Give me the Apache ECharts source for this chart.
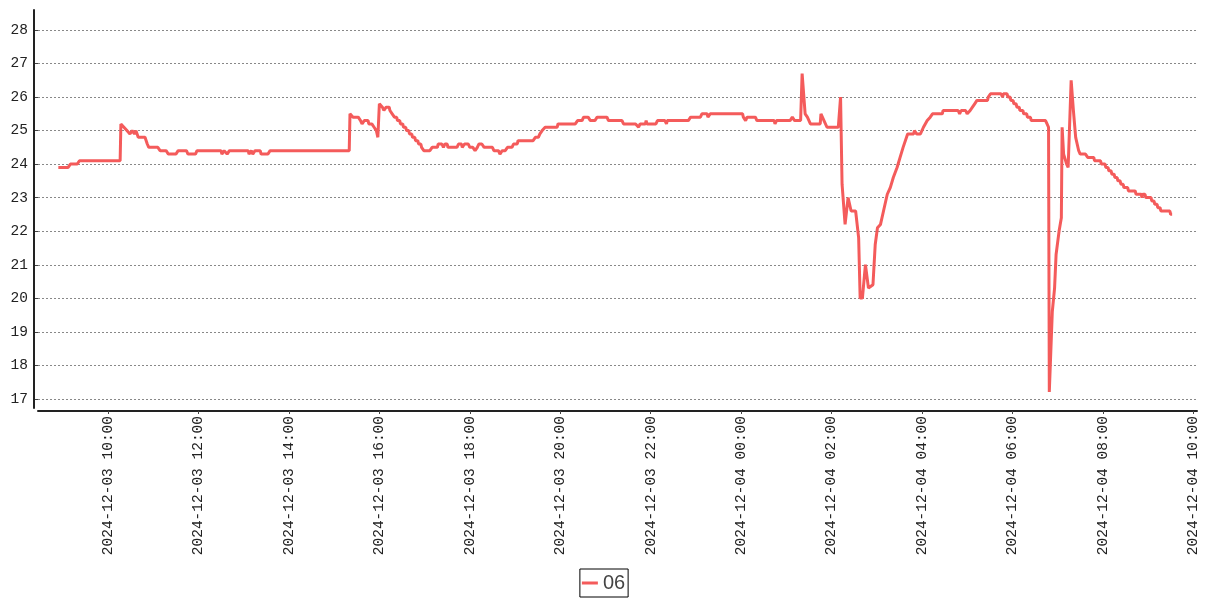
<!DOCTYPE html>
<html>
<head>
<meta charset="utf-8">
<script src="https://cdn.jsdelivr.net/npm/echarts@6/dist/echarts.min.js"></script>
<style>html,body{margin:0;padding:0;background:#fff}#c{width:1207px;height:600px}</style>
</head>
<body>
<div id="c"></div>
<script>
// ---- data ----
var seriesName = '06';
var day3Date = '2024-12-03';
var day3Times = ['08:54','09:07','09:10','09:19','09:22','10:16','10:17','10:21','10:25','10:29','10:32','10:35','10:37','10:40','10:49','10:52','10:54','11:06','11:09','11:17','11:20','11:30','11:33','11:44','11:46','11:56','11:58','12:30','12:31','12:34','12:38','12:41','13:06','13:07','13:10','13:12','13:15','13:22','13:23','13:32','13:35','15:20',
'15:21','15:25','15:32','15:35','15:37','15:40','15:45','15:46','15:50','15:53','15:56','15:58','16:00','16:04','16:06','16:09','16:13',
'16:14','16:16','16:17','16:19','16:20','16:23','16:24','16:27','16:28','16:31','16:32','16:35','16:36','16:39','16:40','16:43','16:44','16:47','16:48','16:51','16:52','16:55','16:56','16:58','16:59',
'17:07','17:10','17:17','17:18','17:23','17:25','17:27','17:30','17:31','17:43','17:45','17:49','17:50','17:53','17:58','18:00','18:04','18:07','18:10','18:12','18:16','18:19','18:30','18:32','18:38','18:40','18:43','18:47','18:50','18:56','18:58','19:03','19:04','19:24','19:27','19:31','19:33','19:36','19:40','19:56','19:57','20:20','20:23','20:29','20:31','20:37','20:40','20:46','20:49','21:02','21:04','21:22','21:24','21:40','21:44','21:46','21:53','21:54','21:55','22:07','22:09','22:19','22:21','22:22','22:50','22:53','23:06','23:08','23:15','23:16','23:19'];
var day3Temps = [23.9,23.9,24.0,24.0,24.1,24.1,25.2,25.1,25.0,24.9,25.0,24.9,25.0,24.8,24.8,24.6,24.5,24.5,24.4,24.4,24.3,24.3,24.4,24.4,24.3,24.3,24.4,24.4,24.3,24.4,24.3,24.4,24.4,24.3,24.4,24.3,24.4,24.4,24.3,24.3,24.4,24.4,
25.5,25.4,25.4,25.3,25.2,25.3,25.3,25.2,25.2,25.1,25.0,24.8,25.8,25.7,25.6,25.7,25.7,
25.6,25.6,25.5,25.5,25.4,25.4,25.3,25.3,25.2,25.2,25.1,25.1,25.0,25.0,24.9,24.9,24.8,24.8,24.7,24.7,24.6,24.6,24.5,24.5,24.4,
24.4,24.5,24.5,24.6,24.6,24.5,24.6,24.6,24.5,24.5,24.6,24.6,24.5,24.6,24.6,24.5,24.5,24.4,24.5,24.6,24.6,24.5,24.5,24.4,24.4,24.3,24.4,24.4,24.5,24.5,24.6,24.6,24.7,24.7,24.8,24.8,24.9,25.0,25.1,25.1,25.2,25.2,25.3,25.3,25.4,25.4,25.3,25.3,25.4,25.4,25.3,25.3,25.2,25.2,25.1,25.2,25.2,25.3,25.2,25.2,25.3,25.3,25.2,25.3,25.3,25.4,25.4,25.5,25.5,25.4,25.5];
var day4Date = '2024-12-04';
var day4Times = ['00:02','00:03','00:06','00:08','00:19','00:21','00:44','00:45','00:47','01:05','01:08','01:11','01:19','01:21','01:25','01:28','01:32','01:45','01:46','01:50','01:54','02:09','02:12','02:14','02:18','02:22','02:26','02:32','02:36','02:38','02:41','02:45','02:49','02:55','02:58','03:01','03:05','03:09','03:14','03:18','03:22','03:27','03:31','03:35','03:41','03:49','03:50','03:53','03:58','04:02','04:07','04:11','04:14','04:27','04:28','04:48','04:50','04:52','04:58','05:00','05:04',
'05:06','05:07','05:09','05:10','05:12','05:13','05:27','05:28','05:30','05:31','05:45','05:47','05:48','05:53',
'05:54','05:57','05:58','06:01','06:02','06:05','06:06','06:09','06:10','06:14','06:15','06:19','06:20','06:24','06:25',
'06:44','06:46','06:48','06:49','06:53','06:56','06:58','07:02','07:05','07:06','07:08','07:12','07:14','07:18','07:21','07:24','07:28','07:30','07:37','07:40','07:48',
'07:49','07:57','07:58','08:03','08:04','08:07','08:08','08:11','08:12','08:15','08:16','08:19','08:20','08:23','08:24','08:27','08:28','08:33','08:34','08:43','08:44','08:51','08:52','08:53','08:56','08:57','09:04','09:05','09:08','09:09','09:12','09:13','09:16','09:17','09:29','09:30','09:32'];
var day4Temps = [25.5,25.4,25.3,25.4,25.4,25.3,25.3,25.2,25.3,25.3,25.4,25.3,25.3,26.7,25.5,25.4,25.2,25.2,25.5,25.3,25.1,25.1,26.0,23.4,22.2,23.0,22.6,22.6,21.8,20.0,20.0,21.0,20.3,20.4,21.6,22.1,22.2,22.6,23.1,23.3,23.6,23.9,24.2,24.5,24.9,24.9,25.0,24.9,24.9,25.1,25.3,25.4,25.5,25.5,25.6,25.6,25.5,25.6,25.6,25.5,25.6,
25.6,25.7,25.7,25.8,25.8,25.9,25.9,26.0,26.0,26.1,26.1,26.0,26.1,26.1,
26.0,26.0,25.9,25.9,25.8,25.8,25.7,25.7,25.6,25.6,25.5,25.5,25.4,25.4,25.3,
25.3,25.2,25.1,17.2,19.6,20.3,21.3,22.0,22.4,25.1,24.3,24.0,23.9,26.5,25.6,24.8,24.4,24.3,24.3,24.2,24.2,
24.1,24.1,24.0,24.0,23.9,23.9,23.8,23.8,23.7,23.7,23.6,23.6,23.5,23.5,23.4,23.4,23.3,23.3,23.2,23.2,23.1,23.1,23.0,23.1,23.1,23.0,23.0,22.9,22.9,22.8,22.8,22.7,22.7,22.6,22.6,22.5,22.5];
var xTickLabels = ['2024-12-03 10:00','2024-12-03 12:00','2024-12-03 14:00','2024-12-03 16:00','2024-12-03 18:00','2024-12-03 20:00','2024-12-03 22:00','2024-12-04 00:00','2024-12-04 02:00','2024-12-04 04:00','2024-12-04 06:00','2024-12-04 08:00','2024-12-04 10:00'];
var xMinLabel = '2024-12-03 08:27';
var xMaxLabel = '2024-12-04 10:05';
var yTicks = [17,18,19,20,21,22,23,24,25,26,27,28];
var yMinAll = 16.72, yMaxAll = 28.6;

// ---- helpers ----
function toTs(s) {
  var p = s.split(/[- :]/).map(Number);
  return new Date(p[0], p[1] - 1, p[2], p[3], p[4]).getTime();
}
function pad(n) { return (n < 10 ? '0' : '') + n; }
function fmt(v) {
  var d = new Date(v);
  return d.getFullYear() + '-' + pad(d.getMonth() + 1) + '-' + pad(d.getDate()) + ' ' + pad(d.getHours()) + ':' + pad(d.getMinutes());
}
var data = [];
day3Times.forEach(function (t, i) { data.push([toTs(day3Date + ' ' + t), day3Temps[i]]); });
day4Times.forEach(function (t, i) { data.push([toTs(day4Date + ' ' + t), day4Temps[i]]); });
var xTicks = xTickLabels.map(toTs);

var red = '#F45B5B';
var labelFont = 'Liberation Mono';
var chart = echarts.init(document.getElementById('c'), null, { renderer: 'canvas' });
chart.setOption({
  animation: false,
  backgroundColor: '#fff',
  grid: [
    { left: 38, right: 10, top: 10, bottom: 192 },
    { left: 38, right: 10, top: 30, bottom: 201 }
  ],
  xAxis: [
    {
      type: 'value', gridIndex: 0, min: toTs(xMinLabel), max: toTs(xMaxLabel), offset: 3,
      axisLine: { show: true, onZero: false, lineStyle: { color: '#222', width: 2 } },
      axisTick: { show: true, length: 3, customValues: xTicks, lineStyle: { color: '#444' } },
      axisLabel: { customValues: xTicks, rotate: 90, margin: 5, formatter: fmt, fontFamily: labelFont, fontSize: 14.5, color: '#222', showMinLabel: true, showMaxLabel: true },
      splitLine: { show: false }
    },
    { type: 'value', gridIndex: 1, min: 0, max: 1, show: false }
  ],
  yAxis: [
    {
      type: 'value', gridIndex: 0, min: yMinAll, max: yMaxAll, offset: 4,
      axisLine: { show: true, onZero: false, lineStyle: { color: '#222', width: 2 } },
      axisTick: { show: false }, axisLabel: { show: false }, splitLine: { show: false }
    },
    {
      type: 'value', gridIndex: 1, min: yTicks[0], max: yTicks[yTicks.length - 1], interval: 1, offset: 4,
      axisLine: { show: false },
      axisTick: { show: true, length: 3, lineStyle: { color: '#444' } },
      axisLabel: { margin: 6, fontFamily: labelFont, fontSize: 14.5, color: '#222' },
      splitLine: { show: true, lineStyle: { type: [2, 2], color: '#888', width: 1 } }
    }
  ],
  legend: {
    bottom: 3, left: 'center',
    data: [{ name: seriesName, icon: 'rect' }],
    itemWidth: 16, itemHeight: 3,
    padding: [4, 3, 4, 2],
    borderColor: '#000', borderWidth: 1, borderRadius: 0,
    textStyle: { fontFamily: 'Liberation Sans', fontSize: 20, color: '#444' }
  },
  series: [{
    name: seriesName, type: 'line', xAxisIndex: 0, yAxisIndex: 0,
    data: data, symbol: 'none', showSymbol: false,
    lineStyle: { color: red, width: 3 }, itemStyle: { color: red }
  }]
});
</script>
</body>
</html>
